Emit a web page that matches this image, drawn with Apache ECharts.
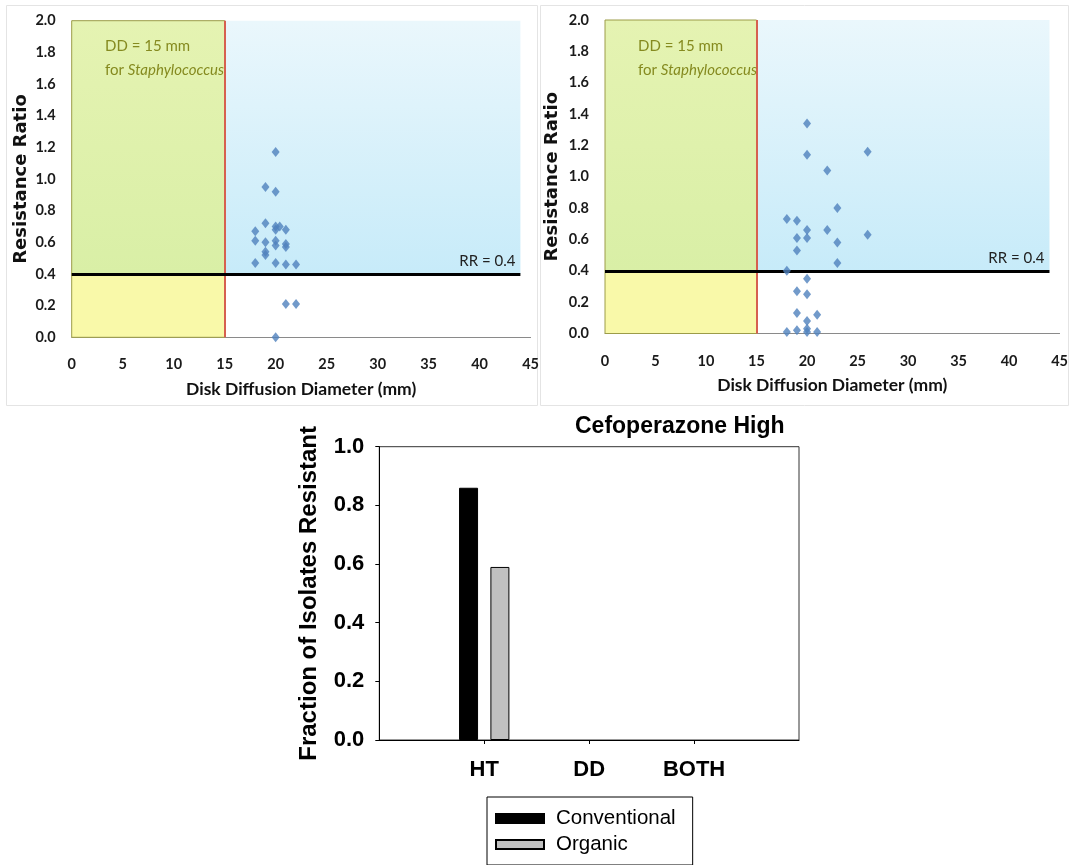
<!DOCTYPE html>
<html>
<head>
<meta charset="utf-8">
<script src="https://cdn.jsdelivr.net/npm/echarts@6/dist/echarts.min.js"></script>
<style>html,body{margin:0;padding:0;background:#fff}#c{width:1071px;height:865px}</style>
</head>
<body>
<div id="c"></div>
<script>
// ---- data ----
const leftX = [20, 19, 20, 19, 20, 20, 20.4, 21, 18, 18, 19, 20, 20, 21, 21, 19, 19, 18, 20, 21, 22, 21, 22, 20];
const leftY = [1.17, 0.95, 0.92, 0.72, 0.70, 0.68, 0.70, 0.68, 0.67, 0.61, 0.60, 0.61, 0.58, 0.59, 0.57, 0.54, 0.52, 0.47, 0.47, 0.46, 0.46, 0.21, 0.21, 0.0];
const rightX = [20, 20, 26, 22, 23, 18, 19, 20, 22, 19, 20, 26, 23, 19, 23, 18, 20, 19, 20, 19, 21, 20, 18, 19, 20, 20, 21];
const rightY = [1.34, 1.14, 1.16, 1.04, 0.80, 0.73, 0.72, 0.66, 0.66, 0.61, 0.61, 0.63, 0.58, 0.53, 0.45, 0.40, 0.35, 0.27, 0.25, 0.13, 0.12, 0.08, 0.01, 0.02, 0.03, 0.01, 0.01];
const ddThreshold = 15;      // mm
const rrThreshold = 0.4;     // resistance ratio
const shadeEnd = 44;         // x extent of shaded regions
const scatterXTicks = [0, 45, 5];   // min, max, interval
const scatterYTicks = [0, 2, 0.2];
const barCategories = ['HT', 'DD', 'BOTH'];
const conventional = [0.86, 0, 0];
const organic = [0.59, 0, 0];
const barYTicks = [0, 1, 0.2];

// ---- styles ----
const NARROW = "Lato, 'Liberation Sans', sans-serif";
const WIDE = "'DejaVu Sans', Verdana, sans-serif";
const ARIAL = "'Liberation Sans', Arial, sans-serif";
const OLIVE = '#858a1f';

const chart = echarts.init(document.getElementById('c'), null, {renderer: 'canvas'});

function gradient(c1, c2) {
  return new echarts.graphic.LinearGradient(0, 0, 0, 1, [{offset: 0, color: c1}, {offset: 1, color: c2}]);
}

function scatterAxes(gi, nameGapY) {
  const x = {
    type: 'value', gridIndex: gi, min: scatterXTicks[0], max: scatterXTicks[1], interval: scatterXTicks[2],
    axisLine: {show: true, onZero: false, lineStyle: {color: '#8a8a8a', width: 1}},
    axisTick: {show: false}, splitLine: {show: false},
    axisLabel: {margin: 20, fontFamily: NARROW, fontSize: 14.5, fontWeight: 'bold', color: '#1a1a1a'},
    name: 'Disk Diffusion Diameter (mm)', nameLocation: 'middle', nameGap: 43,
    nameTextStyle: {fontFamily: NARROW, fontSize: 17.5, fontWeight: 'bold', color: '#111'}
  };
  const y = {
    type: 'value', gridIndex: gi, min: scatterYTicks[0], max: scatterYTicks[1], interval: scatterYTicks[2],
    axisLine: {show: false}, axisTick: {show: false}, splitLine: {show: false},
    axisLabel: {margin: 16, fontFamily: NARROW, fontSize: 14.5, fontWeight: 'bold', color: '#1a1a1a',
      padding: [8, 0, 0, 0], formatter: v => v.toFixed(1)},
    name: 'Resistance Ratio', nameLocation: 'middle', nameGap: nameGapY,
    nameTextStyle: {fontFamily: WIDE, fontSize: 18, fontWeight: 'bold', color: '#111'}
  };
  return [x, y];
}

function backgroundSeries(idx) {
  return {
    type: 'scatter', xAxisIndex: idx, yAxisIndex: idx, data: [], z: 1, silent: true,
    markArea: {
      silent: true,
      data: [
        [{coord: [ddThreshold, rrThreshold], itemStyle: {color: gradient('#eaf7fc', '#c7ebf9')}}, {coord: [shadeEnd, scatterYTicks[1]]}],
        [{coord: [0, rrThreshold], itemStyle: {color: gradient('#e5f3b2', '#d9efa6')}}, {coord: [ddThreshold, scatterYTicks[1]]}],
        [{coord: [0, 0], itemStyle: {color: '#f9f9a9'}}, {coord: [ddThreshold, rrThreshold]}],
        [{coord: [0, 0], itemStyle: {color: 'rgba(0,0,0,0)', borderColor: '#9c9c48', borderWidth: 1}}, {coord: [ddThreshold, scatterYTicks[1]]}]
      ]
    },
    markLine: {
      silent: true, symbol: 'none', animation: false,
      data: [
        {xAxis: ddThreshold, lineStyle: {color: '#d6604f', width: 2, type: 'solid'}, label: {show: false}},
        [{coord: [0, rrThreshold], lineStyle: {color: '#000', width: 3, type: 'solid'},
          label: {show: true, position: 'insideEndTop', formatter: 'RR = 0.4', distance: 5,
            fontFamily: NARROW, fontSize: 15, fontWeight: 'normal', color: '#222'}},
         {coord: [shadeEnd, rrThreshold]}]
      ]
    }
  };
}

function pointSeries(idx, xs, ys) {
  return {
    type: 'scatter', xAxisIndex: idx, yAxisIndex: idx, z: 5,
    data: xs.map((x, i) => [x, ys[i]]),
    symbol: 'diamond', symbolSize: [8, 10],
    itemStyle: {color: '#4f81bd'}
  };
}

function barData(values) {
  // zero-height bars are drawn without an outline, as in the original
  return [null].concat(values.map(v => v === 0 ? {value: 0, itemStyle: {borderWidth: 0, opacity: 0}} : v), [null]);
}

const [x0, y0] = scatterAxes(0, 41);
const [x1, y1] = scatterAxes(1, 44);

const ddLabel = {
  text: '{a|DD = 15 mm}\n{a|for }{b|Staphylococcus}',
  padding: 0,
  textStyle: {
    fontWeight: 'normal',
    rich: {
      a: {fontFamily: NARROW, fontSize: 15, fontWeight: 'normal', color: OLIVE, lineHeight: 24},
      b: {fontFamily: NARROW, fontSize: 15, fontWeight: 'normal', color: OLIVE, lineHeight: 24, fontStyle: 'italic'}
    }
  }
};

const option = {
  animation: false,
  backgroundColor: '#fff',
  title: [
    Object.assign({left: 105, top: 34}, ddLabel),
    Object.assign({left: 638, top: 34}, ddLabel),
    {text: 'Cefoperazone High', left: 575, top: 415, padding: 0,
      textStyle: {fontFamily: ARIAL, fontSize: 23, fontWeight: 'bold', color: '#000'}}
  ],
  legend: {
    data: ['Conventional', 'Organic'], orient: 'vertical', left: 487, top: 797,
    borderColor: '#000', borderWidth: 1, borderRadius: 0, padding: [11, 17, 10, 8],
    itemGap: 5, itemWidth: 48, itemHeight: 9, icon: 'rect', selectedMode: false,
    textStyle: {fontFamily: ARIAL, fontSize: 20.5, color: '#000', lineHeight: 20, padding: [0, 0, 0, 7]}
  },
  graphic: [
    {type: 'rect', z: -10, shape: {x: 6.5, y: 5.5, width: 531, height: 400}, style: {fill: 'none', stroke: '#e4e4e4', lineWidth: 1}},
    {type: 'rect', z: -10, shape: {x: 540.5, y: 5.5, width: 528, height: 400}, style: {fill: 'none', stroke: '#e4e4e4', lineWidth: 1}}
  ],
  grid: [
    {left: 71.7, top: 20.7, width: 458.9, height: 316.6},
    {left: 605, top: 20, width: 455, height: 313.5},
    {left: 379.3, top: 446.7, width: 419.7, height: 293.3, show: true, borderColor: '#333', borderWidth: 1, backgroundColor: 'rgba(0,0,0,0)'}
  ],
  xAxis: [
    x0, x1,
    {
      type: 'category', gridIndex: 2, data: [''].concat(barCategories, ['']), boundaryGap: false,
      axisLine: {lineStyle: {color: '#000', width: 1}},
      axisTick: {show: true, length: 4, interval: (i, v) => v !== '', lineStyle: {color: '#000'}},
      axisLabel: {interval: 0, margin: 19, fontFamily: ARIAL, fontSize: 22, fontWeight: 'bold', color: '#000'},
      splitLine: {show: false}
    }
  ],
  yAxis: [
    y0, y1,
    {
      type: 'value', gridIndex: 2, min: barYTicks[0], max: barYTicks[1], interval: barYTicks[2],
      axisLine: {show: true, lineStyle: {color: '#000', width: 1}},
      axisTick: {show: true, length: 4, lineStyle: {color: '#000'}},
      splitLine: {show: false},
      axisLabel: {margin: 15, fontFamily: ARIAL, fontSize: 22, fontWeight: 'bold', color: '#000', formatter: v => v.toFixed(1)},
      name: 'Fraction of Isolates Resistant', nameLocation: 'middle', nameGap: 58,
      nameTextStyle: {fontFamily: ARIAL, fontSize: 24, fontWeight: 'bold', color: '#000'}
    }
  ],
  series: [
    backgroundSeries(0), pointSeries(0, leftX, leftY),
    backgroundSeries(1), pointSeries(1, rightX, rightY),
    {
      type: 'bar', name: 'Conventional', xAxisIndex: 2, yAxisIndex: 2,
      data: barData(conventional), barWidth: 19, barGap: '65%',
      itemStyle: {color: '#000', borderColor: '#000', borderWidth: 1}
    },
    {
      type: 'bar', name: 'Organic', xAxisIndex: 2, yAxisIndex: 2,
      data: barData(organic), barWidth: 19, barGap: '65%',
      itemStyle: {color: '#c0c0c0', borderColor: '#000', borderWidth: 1}
    }
  ]
};
chart.setOption(option);
</script>
</body>
</html>
